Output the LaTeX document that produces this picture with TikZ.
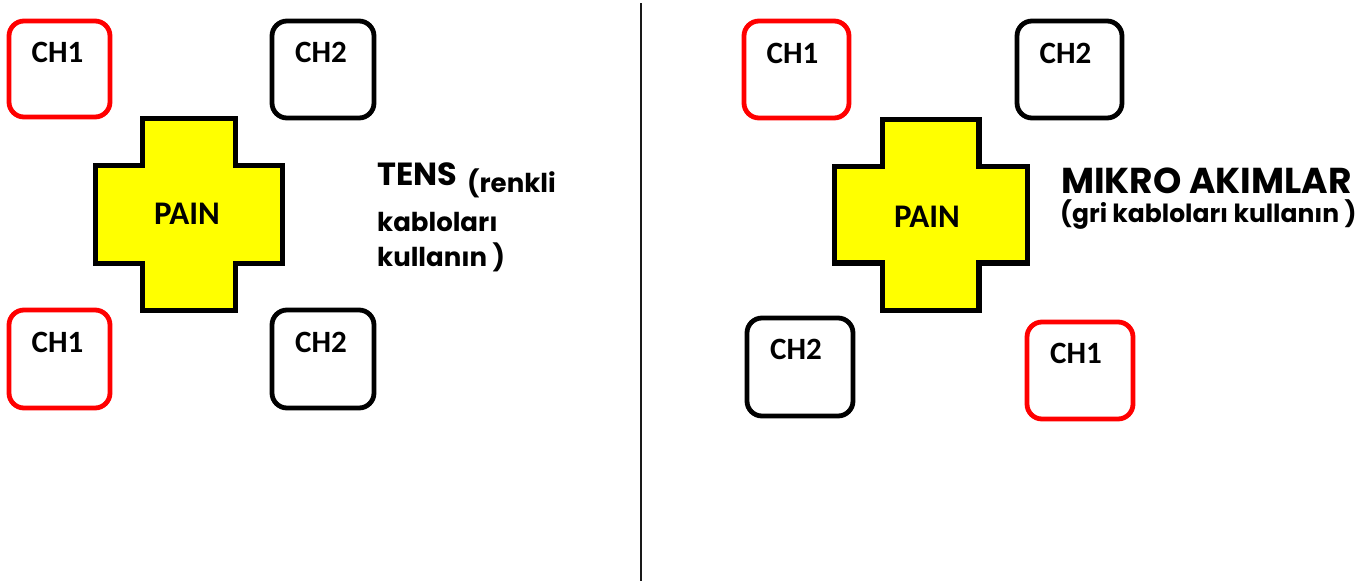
\documentclass[tikz,border=0pt]{standalone}
\usepackage{fontspec}
\setmainfont{Carlito}
\newfontfamily\popfont{Poppins}
\definecolor{padred}{RGB}{255,0,0}
\definecolor{painyellow}{RGB}{255,255,0}
\begin{document}
\begin{tikzpicture}[x=1pt,y=-1pt,
  pad/.style={draw, line width=4.8pt, rounded corners=15pt, inner sep=0pt, fill=white},
  redpad/.style={pad, draw=padred},
  blackpad/.style={pad, draw=black},
  padlabel/.style={font=\fontsize{31}{33}\selectfont\bfseries, inner sep=0pt, anchor=center},
  painlabel/.style={font=\fontsize{33}{35}\selectfont\bfseries, inner sep=0pt},
  cross/.style={draw=black, line width=5.5pt, fill=painyellow, line join=miter},
  bigtitle/.style={font=\popfont\fontsize{32}{35}\selectfont\bfseries, inner sep=0pt, anchor=base west},
  smalltext/.style={font=\popfont\fontsize{26}{30}\selectfont\bfseries, inner sep=0pt, anchor=base west},
]
\useasboundingbox (0,0) rectangle (1368,581);
\fill[white] (0,0) rectangle (1368,581);

% divider
\coordinate (divtop) at (641,3);
\coordinate (divbot) at (641,581);
\draw[line width=2.2pt, black!90] (divtop) -- (divbot);

% ---------- left half ----------
\node[redpad, minimum width=101pt, minimum height=96pt] (lch1a) at (59.5,69) {};
\node[padlabel] (lch1alab) at ([yshift=-34pt,xshift=-2pt]lch1a.north) {CH1};
\node[blackpad, minimum width=102pt, minimum height=97pt] (lch2a) at (323,69.5) {};
\node[padlabel] (lch2alab) at ([yshift=-34pt,xshift=-2pt]lch2a.north) {CH2};
\node[redpad, minimum width=101pt, minimum height=98pt] (lch1b) at (59.5,359) {};
\node[padlabel] (lch1blab) at ([yshift=-35pt,xshift=-2pt]lch1b.north) {CH1};
\node[blackpad, minimum width=102pt, minimum height=98pt] (lch2b) at (323,359) {};
\node[padlabel] (lch2blab) at ([yshift=-35pt,xshift=-2pt]lch2b.north) {CH2};

\draw[cross] (142.5,118.5) -- (235.5,118.5) -- (235.5,165.5) -- (282.5,165.5)
  -- (282.5,263.5) -- (235.5,263.5) -- (235.5,310.5) -- (142.5,310.5)
  -- (142.5,263.5) -- (95.5,263.5) -- (95.5,165.5) -- (142.5,165.5) -- cycle;
\node[painlabel] (lpain) at (187,214) {PAIN};

\node[bigtitle] (tens) at (377,185) {TENS};
\node[smalltext] (tens1) at (467,192) {(renkli};
\node[smalltext] (tens2) at (377,231) {kablolar\i};
\node[smalltext] (tens3) at (377,266) {kullan\i n )};

% ---------- right half ----------
\node[redpad, minimum width=105pt, minimum height=97pt] (rch1a) at (796.5,69.5) {};
\node[padlabel] (rch1alab) at ([yshift=-35pt,xshift=-4pt]rch1a.north) {CH1};
\node[blackpad, minimum width=105pt, minimum height=97pt] (rch2a) at (1069.5,69.5) {};
\node[padlabel] (rch2alab) at ([yshift=-35pt,xshift=-4pt]rch2a.north) {CH2};
\node[blackpad, minimum width=106pt, minimum height=98pt] (rch2b) at (800,367) {};
\node[padlabel] (rch2blab) at ([yshift=-34pt,xshift=-4pt]rch2b.north) {CH2};
\node[redpad, minimum width=106pt, minimum height=97pt] (rch1b) at (1080,370.5) {};
\node[padlabel] (rch1blab) at ([yshift=-34pt,xshift=-4pt]rch1b.north) {CH1};

\draw[cross] (882.5,119.5) -- (979,119.5) -- (979,166.5) -- (1027.5,166.5)
  -- (1027.5,263) -- (979,263) -- (979,310.5) -- (882.5,310.5)
  -- (882.5,263) -- (834.5,263) -- (834.5,166.5) -- (882.5,166.5) -- cycle;
\node[painlabel] (rpain) at (927,217) {PAIN};

\node[bigtitle, font=\popfont\fontsize{36}{39}\selectfont\bfseries] (mikro) at (1061,193) {MIKRO AKIMLAR};
\node[smalltext, font=\popfont\fontsize{25}{29}\selectfont\bfseries] (mikro2) at (1060,222) {(gri kablolar\i\ kullan\i n )};
\end{tikzpicture}
\end{document}
